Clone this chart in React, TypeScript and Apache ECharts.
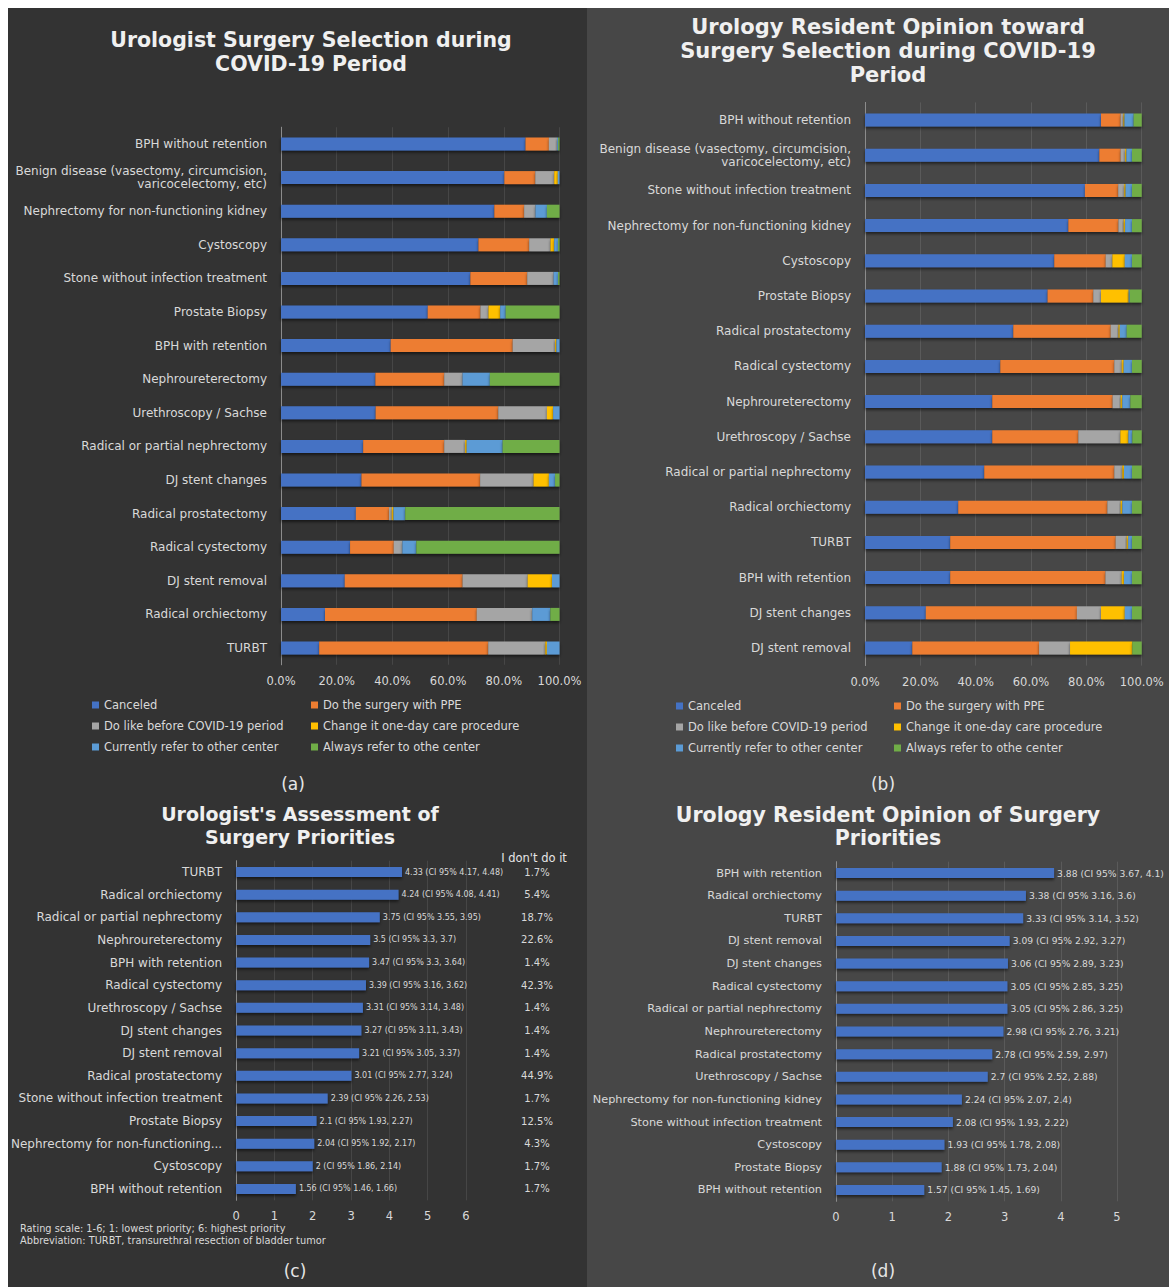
import React, { useEffect, useRef } from 'react';
import * as echarts from 'echarts';

const FONT = 'DejaVu Sans';

const seriesNames = [
  'Canceled',
  'Do the surgery with PPE',
  'Do like before COVID-19 period',
  'Change it one-day care procedure',
  'Currently refer to other center',
  'Always refer to othe center',
];
const seriesColors = ['#4472C4', '#ED7D31', '#A5A5A5', '#FFC000', '#5B9BD5', '#70AD47'];

// Panel (a)
const catsA = [
  'BPH without retention',
  'Benign disease (vasectomy, circumcision,\nvaricocelectomy, etc)',
  'Nephrectomy for non-functioning kidney',
  'Cystoscopy',
  'Stone without infection treatment',
  'Prostate Biopsy',
  'BPH with retention',
  'Nephroureterectomy',
  'Urethroscopy / Sachse',
  'Radical or partial nephrectomy',
  'DJ stent changes',
  'Radical prostatectomy',
  'Radical cystectomy',
  'DJ stent removal',
  'Radical orchiectomy',
  'TURBT',
];
const canceledA = [87.8, 80.2, 76.6, 70.9, 68.0, 52.7, 39.4, 33.9, 34.0, 29.5, 28.9, 26.9, 24.8, 22.9, 15.8, 13.7];
const ppeA = [8.4, 11.1, 10.7, 18.2, 20.4, 18.9, 43.8, 24.7, 44.0, 29.1, 42.6, 11.9, 15.7, 42.3, 54.5, 60.7];
const beforeA = [2.9, 6.8, 4.1, 7.7, 9.5, 2.9, 15.2, 6.6, 17.5, 7.5, 19.2, 1.0, 3.1, 23.4, 19.9, 20.5];
const oneDayA = [0, 1.3, 0, 1.3, 0, 4.2, 0.5, 0, 2.2, 0.6, 5.5, 0.6, 0, 8.7, 0, 0.6];
const referNowA = [0.4, 0.6, 4.1, 1.4, 1.6, 2.0, 1.1, 9.8, 2.3, 12.9, 2.2, 4.2, 5.0, 2.7, 6.5, 4.5];
const alwaysA = [0.5, 0, 4.5, 0.5, 0.5, 19.3, 0, 25.0, 0, 20.4, 1.6, 55.4, 51.4, 0, 3.3, 0];

// Panel (b)
const catsB = [
  'BPH without retention',
  'Benign disease (vasectomy, circumcision,\nvaricocelectomy, etc)',
  'Stone without infection treatment',
  'Nephrectomy for non-functioning kidney',
  'Cystoscopy',
  'Prostate Biopsy',
  'Radical prostatectomy',
  'Radical cystectomy',
  'Nephroureterectomy',
  'Urethroscopy / Sachse',
  'Radical or partial nephrectomy',
  'Radical orchiectomy',
  'TURBT',
  'BPH with retention',
  'DJ stent changes',
  'DJ stent removal',
];
const canceledB = [85.3, 84.7, 79.5, 73.5, 68.4, 66.0, 53.6, 48.9, 46.0, 46.0, 43.1, 33.7, 30.8, 30.8, 22.0, 17.1];
const ppeB = [7.1, 7.7, 12.0, 18.1, 18.6, 16.5, 35.2, 41.2, 43.5, 31.1, 47.0, 53.9, 59.8, 56.1, 54.6, 45.8];
const beforeB = [1.0, 1.6, 2.2, 1.9, 2.4, 2.8, 2.8, 2.7, 2.9, 15.2, 2.9, 4.8, 4.0, 5.9, 8.7, 11.2];
const oneDayB = [0.4, 0.5, 0.5, 0.5, 4.5, 10.0, 0.5, 0.7, 0.6, 2.9, 0.6, 0.6, 0.5, 0.8, 8.6, 22.5];
const referNowB = [3.3, 2.0, 2.3, 2.5, 2.6, 0.4, 2.5, 3.0, 2.9, 1.4, 2.9, 3.5, 1.4, 2.9, 2.6, 0];
const alwaysB = [2.9, 3.5, 3.5, 3.5, 3.5, 4.3, 5.4, 3.5, 4.1, 3.4, 3.5, 3.5, 3.5, 3.5, 3.5, 3.4];

// Panel (c)
const catsC = [
  'TURBT',
  'Radical orchiectomy',
  'Radical or partial nephrectomy',
  'Nephroureterectomy',
  'BPH with retention',
  'Radical cystectomy',
  'Urethroscopy / Sachse',
  'DJ stent changes',
  'DJ stent removal',
  'Radical prostatectomy',
  'Stone without infection treatment',
  'Prostate Biopsy',
  'Nephrectomy for non-functioning...',
  'Cystoscopy',
  'BPH without retention',
];
const ratingC = [4.33, 4.24, 3.75, 3.5, 3.47, 3.39, 3.31, 3.27, 3.21, 3.01, 2.39, 2.1, 2.04, 2, 1.56];
const ciLowC = [4.17, 4.08, 3.55, 3.3, 3.3, 3.16, 3.14, 3.11, 3.05, 2.77, 2.26, 1.93, 1.92, 1.86, 1.46];
const ciHighC = [4.48, 4.41, 3.95, 3.7, 3.64, 3.62, 3.48, 3.43, 3.37, 3.24, 2.53, 2.27, 2.17, 2.14, 1.66];
const dontDoC = ['1.7%', '5.4%', '18.7%', '22.6%', '1.4%', '42.3%', '1.4%', '1.4%', '1.4%', '44.9%', '1.7%', '12.5%', '4.3%', '1.7%', '1.7%'];

// Panel (d)
const catsD = [
  'BPH with retention',
  'Radical orchiectomy',
  'TURBT',
  'DJ stent removal',
  'DJ stent changes',
  'Radical cystectomy',
  'Radical or partial nephrectomy',
  'Nephroureterectomy',
  'Radical prostatectomy',
  'Urethroscopy / Sachse',
  'Nephrectomy for non-functioning kidney',
  'Stone without infection treatment',
  'Cystoscopy',
  'Prostate Biopsy',
  'BPH without retention',
];
const ratingD = [3.88, 3.38, 3.33, 3.09, 3.06, 3.05, 3.05, 2.98, 2.78, 2.7, 2.24, 2.08, 1.93, 1.88, 1.57];
const ciLowD = [3.67, 3.16, 3.14, 2.92, 2.89, 2.85, 2.86, 2.76, 2.59, 2.52, 2.07, 1.93, 1.78, 1.73, 1.45];
const ciHighD = [4.1, 3.6, 3.52, 3.27, 3.23, 3.25, 3.25, 3.21, 2.97, 2.88, 2.4, 2.22, 2.08, 2.04, 1.69];

const dataA = [canceledA, ppeA, beforeA, oneDayA, referNowA, alwaysA];
const dataB = [canceledB, ppeB, beforeB, oneDayB, referNowB, alwaysB];

const LABEL = '#d9d9d9';
const barShadow = { shadowColor: 'rgba(0,0,0,0.55)', shadowBlur: 3, shadowOffsetY: 2 };

function catAxis(gridIndex: number, data: string[], fontSize: number) {
  return {
    type: 'category',
    gridIndex,
    data,
    inverse: true,
    axisLine: { show: true, lineStyle: { color: '#8c8c8c', width: 1 } },
    axisTick: { show: false },
    axisLabel: { color: LABEL, fontSize, fontFamily: FONT, margin: 14, interval: 0, lineHeight: 13 },
    splitLine: { show: false },
  };
}

function valAxis(gridIndex: number, max: number, interval: number, split: string, pct: boolean) {
  return {
    type: 'value',
    gridIndex,
    min: 0,
    max,
    interval,
    axisLine: { show: false },
    axisTick: { show: false },
    splitLine: { show: true, lineStyle: { color: split, width: 1 } },
    axisLabel: {
      color: LABEL,
      fontSize: 11.5,
      fontFamily: FONT,
      margin: 10,
      formatter: pct ? (v: number) => v.toFixed(1) + '%' : (v: number) => String(v),
    },
  };
}

function legend(names: string[], left: number, top: number) {
  return {
    data: names,
    orient: 'vertical',
    left,
    top,
    padding: 0,
    itemGap: 7,
    itemWidth: 7,
    itemHeight: 7,
    icon: 'rect',
    textStyle: { color: LABEL, fontSize: 11.5, fontFamily: FONT, lineHeight: 14 },
  };
}

function txt(x: number, y: number, text: string, size: number, opts: any = {}) {
  return {
    type: 'text',
    x,
    y,
    style: {
      text,
      fill: opts.fill || '#f0f0f0',
      fontSize: size,
      fontWeight: opts.weight || 'normal',
      fontFamily: FONT,
      textAlign: opts.align || 'center',
      textVerticalAlign: 'top',
      lineHeight: opts.lineHeight || size * 1.3,
    },
  };
}

export default function App() {
  const ref = useRef<HTMLDivElement>(null);
  useEffect(() => {
    const chart = echarts.init(ref.current!, null, { renderer: 'svg' });
    const series: any[] = [];
    seriesNames.forEach((name, i) => {
      series.push({
        type: 'bar',
        name,
        stack: 'a',
        xAxisIndex: 0,
        yAxisIndex: 0,
        barWidth: 13,
        data: dataA[i],
        itemStyle: { color: seriesColors[i], ...barShadow },
      });
    });
    seriesNames.forEach((name, i) => {
      series.push({
        type: 'bar',
        name,
        stack: 'b',
        xAxisIndex: 1,
        yAxisIndex: 1,
        barWidth: 13,
        data: dataB[i],
        itemStyle: { color: seriesColors[i], ...barShadow },
      });
    });
    series.push({
      type: 'bar',
      name: 'Urologist rating',
      xAxisIndex: 2,
      yAxisIndex: 2,
      barWidth: 10,
      data: ratingC,
      itemStyle: { color: '#4472C4', ...barShadow },
      label: {
        show: true,
        position: 'right',
        distance: 3,
        color: LABEL,
        fontSize: 8,
        fontFamily: FONT,
        formatter: (p: any) => `${ratingC[p.dataIndex]} (CI 95% ${ciLowC[p.dataIndex]}, ${ciHighC[p.dataIndex]})`,
      },
    });
    series.push({
      type: 'bar',
      name: 'Resident rating',
      xAxisIndex: 3,
      yAxisIndex: 3,
      barWidth: 10,
      data: ratingD,
      itemStyle: { color: '#4472C4', ...barShadow },
      label: {
        show: true,
        position: 'right',
        distance: 3,
        color: LABEL,
        fontSize: 9.2,
        fontFamily: FONT,
        formatter: (p: any) => `${ratingD[p.dataIndex]} (CI 95% ${ciLowD[p.dataIndex]}, ${ciHighD[p.dataIndex]})`,
      },
    });

    const option: any = {
      animation: false,
      backgroundColor: 'transparent',
      textStyle: { fontFamily: FONT },
      grid: [
        { left: 273, top: 119.2, width: 278.5, height: 537.6 },
        { left: 857, top: 94.4, width: 276.7, height: 563.2 },
        { left: 228, top: 852.7, width: 230, height: 339.6 },
        { left: 828, top: 853.7, width: 281, height: 339.6 },
      ],
      xAxis: [
        valAxis(0, 100, 20, '#464646', true),
        valAxis(1, 100, 20, '#5a5a5a', true),
        valAxis(2, 6, 1, '#464646', false),
        valAxis(3, 5, 1, '#5a5a5a', false),
      ],
      yAxis: [
        catAxis(0, catsA, 12),
        catAxis(1, catsB, 12),
        catAxis(2, catsC, 12),
        catAxis(3, catsD, 11.3),
        {
          type: 'category',
          gridIndex: 2,
          position: 'right',
          data: dontDoC,
          inverse: true,
          axisLine: { show: false },
          axisTick: { show: false },
          splitLine: { show: false },
          axisLabel: { color: LABEL, fontSize: 10, fontFamily: FONT, margin: 71, align: 'center', interval: 0 },
        },
      ],
      legend: [
        legend([seriesNames[0], seriesNames[2], seriesNames[4]], 84, 690),
        legend([seriesNames[1], seriesNames[3], seriesNames[5]], 303, 690),
        legend([seriesNames[0], seriesNames[2], seriesNames[4]], 668, 691),
        legend([seriesNames[1], seriesNames[3], seriesNames[5]], 886, 691),
      ],
      graphic: [
        txt(303, 20, 'Urologist Surgery Selection during\nCOVID-19 Period', 20.5, { weight: 'bold', lineHeight: 24 }),
        txt(880, 7, 'Urology Resident Opinion toward\nSurgery Selection during COVID-19\nPeriod', 21, { weight: 'bold', lineHeight: 24 }),
        txt(292, 794, "Urologist's Assessment of\nSurgery Priorities", 19, { weight: 'bold', lineHeight: 23 }),
        txt(880, 795, 'Urology Resident Opinion of Surgery\nPriorities', 20.5, { weight: 'bold', lineHeight: 23 }),
        txt(285, 765, '(a)', 17, { fill: '#e6e6e6' }),
        txt(875, 765, '(b)', 17, { fill: '#e6e6e6' }),
        txt(287, 1252, '(c)', 17, { fill: '#e6e6e6' }),
        txt(875, 1252, '(d)', 17, { fill: '#e6e6e6' }),
        txt(526, 843, "I don't do it", 11.5, { fill: '#e6e6e6' }),
        txt(12, 1215, 'Rating scale: 1-6; 1: lowest priority; 6: highest priority\nAbbreviation: TURBT, transurethral resection of bladder tumor', 9.8, { align: 'left', fill: LABEL, lineHeight: 11.5 }),
      ],
      series,
    };
    chart.setOption(option);
    return () => chart.dispose();
  }, []);
  return (
    <div
      ref={ref}
      style={{
        position: 'fixed',
        left: 8,
        top: 8,
        width: 1161,
        height: 1279,
        background: 'linear-gradient(to right, #333333 0px, #333333 579px, #474747 579px, #474747 100%)',
      }}
    />
  );
}
